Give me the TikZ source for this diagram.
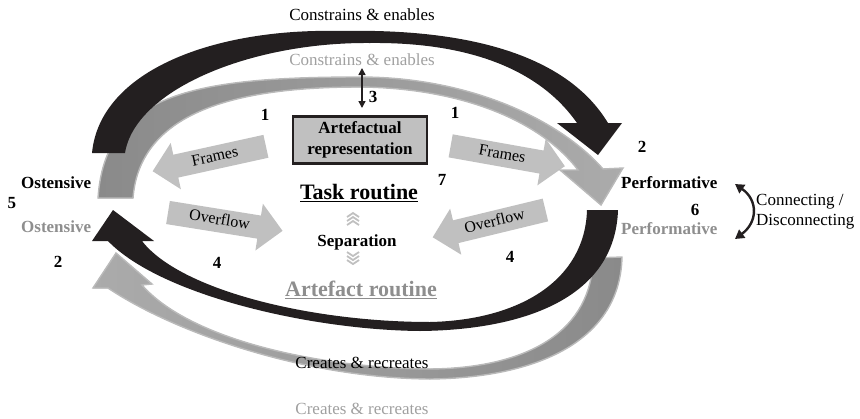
\documentclass[tikz,border=0pt]{standalone}
\usepackage{fontspec}
\setmainfont{Liberation Serif}
\usetikzlibrary{arrows.meta, shapes.arrows}

\definecolor{bandblack}{HTML}{231F20}
\definecolor{banddark}{HTML}{8A8A8A}
\definecolor{bandlight}{HTML}{ABABAB}
\definecolor{bandrim}{HTML}{BABABA}
\definecolor{blockgray}{HTML}{C0C0C0}
\definecolor{labelgray}{HTML}{8E8E8E}
\definecolor{palegray}{HTML}{A0A0A0}

\tikzset{
  lbl/.style={font=\fontsize{17}{20}\selectfont, inner sep=0pt},
  bl/.style={font=\fontsize{17}{20}\selectfont\bfseries, inner sep=0pt},
  big/.style={font=\fontsize{22}{24}\selectfont\bfseries, inner sep=0pt},
  grayband/.style={draw=bandrim, line width=1.4pt, line join=miter},
  blockarrow/.style={single arrow, fill=blockgray, single arrow head extend=12pt,
    minimum height=116pt, inner xsep=2pt, inner ysep=4.5pt, text height=11pt, text depth=3pt,
    font=\fontsize{16}{20}\selectfont},
  artbox/.style={draw=bandblack, line width=2.5pt, fill=blockgray, minimum width=134pt,
    minimum height=47pt, align=center, font=\fontsize{17}{21}\selectfont\bfseries},
  chev/.style={draw=blockgray, line width=1.8pt},
}

\begin{document}
\begin{tikzpicture}[x=1pt, y=-1pt]
  \useasboundingbox (0,0) rectangle (860,418);
  % block arrows between the routine and the two aspects
  \foreach \nm/\x/\y/\rot/\flip/\txt in {frl/215/157.5/12.4/180/Frames, frr/502/155/-10.1/0/Frames,
      ovl/219.5/220.75/-9.1/0/Overflow, ovr/494.75/222.25/13.6/180/Overflow}
    \node[blockarrow, rotate=\rot, shape border rotate=\flip] (\nm) at (\x,\y) {\txt};
  % upper bands: grey behind, black in front
  \filldraw[grayband, left color=banddark, right color=bandlight]
    (98,198) .. controls (105,95) and (190,77) .. (360,77)
    .. controls (470,77) and (560,120) .. (603,169)
    -- (623,168) -- (601,205) -- (560,170) -- (578,170)
    .. controls (540,120) and (460,88) .. (360,87)
    .. controls (240,87) and (140,110) .. (133,198) -- cycle;
  \fill[bandblack]
    (92,153) .. controls (100,70) and (215,28) .. (340,31)
    .. controls (480,28) and (570,60) .. (608,123)
    -- (622,123) -- (598,155) -- (557,123) -- (577,123)
    .. controls (540,70) and (470,42) .. (370,43)
    .. controls (250,42) and (135,90) .. (125,153) -- cycle;
  % lower bands
  \filldraw[grayband, left color=bandlight, right color=banddark]
    (622,257) .. controls (620,345) and (530,378) .. (430,379)
    .. controls (300,378) and (170,330) .. (108,288)
    -- (93,288) -- (116,253) -- (152,284) -- (142,285)
    .. controls (190,340) and (320,368) .. (430,369)
    .. controls (530,368) and (592,330) .. (593,258) -- cycle;
  \fill[bandblack]
    (618,210) .. controls (615,300) and (520,330) .. (420,331)
    .. controls (310,330) and (160,295) .. (108,241)
    -- (92,241) -- (113,210) -- (154,241) -- (142,241)
    .. controls (180,290) and (310,322) .. (430,322)
    .. controls (520,320) and (585,280) .. (587,210) -- cycle;
  % band labels
  \node[lbl] (ce) at (362,15) {Constrains \& enables};
  \node[lbl, text=palegray] (ceg) at (362,60) {Constrains \& enables};
  \node[lbl] (cr) at (362,363) {Creates \& recreates};
  \node[lbl, text=palegray] (crg) at (362,409) {Creates \& recreates};
  % ostensive / performative
  \node[bl, anchor=west] (ost) at (21,183) {Ostensive};
  \node[bl, anchor=west, text=labelgray] (ostg) at (21,227) {Ostensive};
  \node[bl, anchor=west] (perf) at (621,183) {Performative};
  \node[bl, anchor=west, text=labelgray] (perfg) at (621,229) {Performative};
  % centre
  \node[artbox] (art) at (360,140) {Artefactual\\representation};
  \node[big] (task) at (359,193) {\underline{Task routine}};
  \node[bl] (sep) at (357,242) {Separation};
  \node[big, text=labelgray] (artr) at (361,290) {\underline{Artefact routine}};
  \foreach \dy in {213,217,221}
    \draw[chev] (347,\dy+4) -- (353,\dy) -- (359,\dy+4);
  \foreach \dy in {252,256,260}
    \draw[chev] (347,\dy) -- (353,\dy+4) -- (359,\dy);
  % link 3 between the box and the upper band
  \coordinate (lk3a) at (362,68);
  \coordinate (lk3b) at (362,108);
  \draw[bandblack, line width=1.5pt, {Triangle[length=7pt,width=7pt]}-{Triangle[length=7pt,width=7pt]}] (lk3a) -- (lk3b);
  % connecting / disconnecting
  \coordinate (cn1) at (735,184);
  \coordinate (cn2) at (735,239);
  \draw[bandblack, line width=2.4pt, {Triangle[length=9pt,width=10pt]}-{Triangle[length=9pt,width=10pt]}]
    (cn1) .. controls (758,200) and (758,222) .. (cn2);
  \node[lbl, anchor=west, align=left] (conn) at (756,212) {Connecting /\\Disconnecting};
  % numbers
  \foreach \nm/\x/\y/\t in {n5/12/203/5, n2a/58/262/2, n1a/265/115/1, n1b/455/113/1, n3/373/97/3,
      n2b/642/147/2, n6/695/210/6, n7/442/180/7, n4a/217/263/4, n4b/510/257/4}
    \node[bl] (\nm) at (\x,\y) {\t};
\end{tikzpicture}
\end{document}
